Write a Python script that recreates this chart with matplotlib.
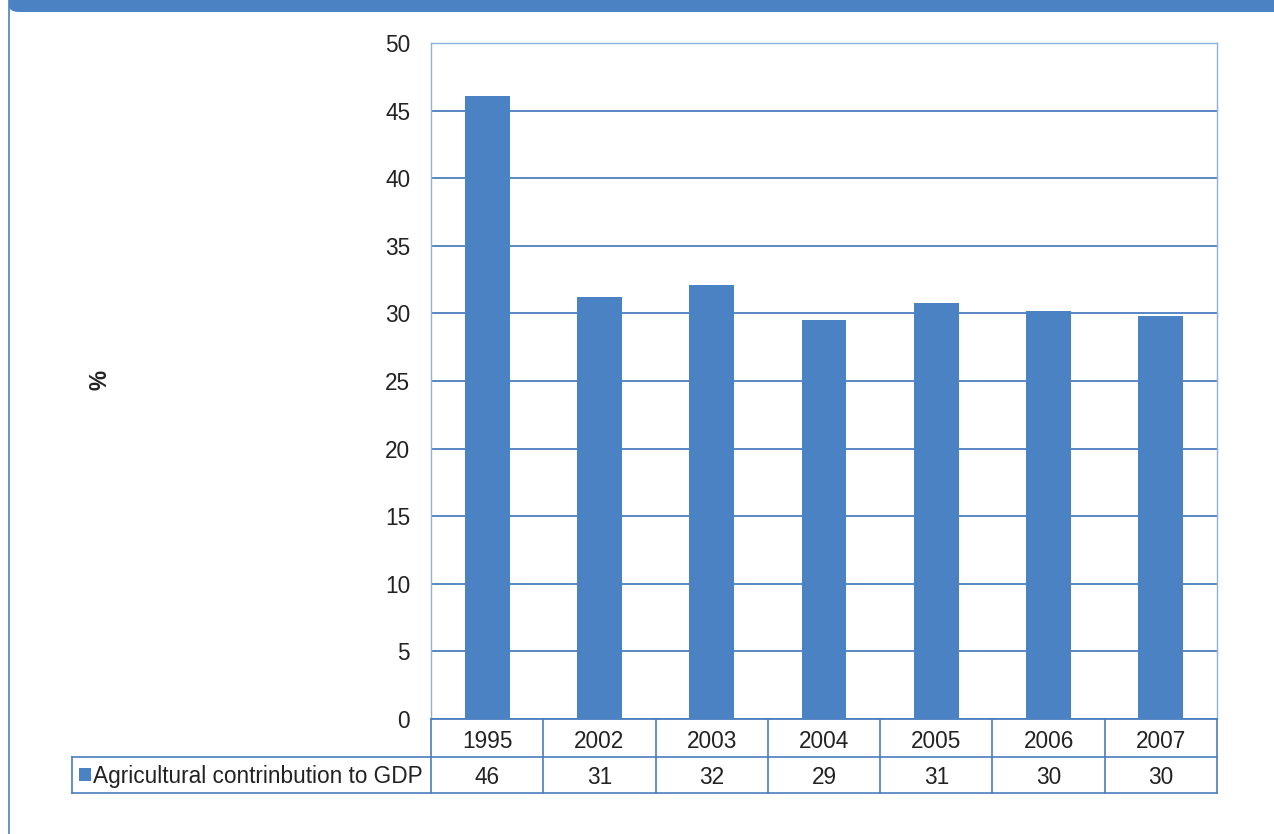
import matplotlib.pyplot as plt
from matplotlib.patches import Rectangle, FancyBboxPatch
from matplotlib.lines import Line2D
from matplotlib.transforms import blended_transform_factory

plt.rcParams['font.family'] = ['Liberation Sans', 'DejaVu Sans']

years = ['1995', '2002', '2003', '2004', '2005', '2006', '2007']
values = [46.1, 31.2, 32.1, 29.5, 30.8, 30.2, 29.8]
table_values = ['46', '31', '32', '29', '31', '30', '30']
series_name = 'Agricultural contrinbution to GDP'

W, H = 1274, 834
bar_color = '#4a82c4'
grid_color = '#4a7ebf'
frame_color = '#8fb0da'
text_color = '#222222'
fs = 16.3


def fx(px):
  return px / W


def fy(py):
  return 1 - py / H


fig = plt.figure(figsize=(W / 100, H / 100), dpi=100)

# top banner and left border
fig.patches.append(FancyBboxPatch((fx(9), fy(12)), fx(1265) + 0.01, fy(0) - fy(12) + 0.01,
                                  boxstyle='round,pad=0,rounding_size=0.008',
                                  transform=fig.transFigure, facecolor='#4a82c4',
                                  edgecolor='none'))
fig.lines.append(Line2D([fx(9), fx(9)], [0, 1], transform=fig.transFigure,
                        color='#4a82c4', lw=1.2))

ax = fig.add_axes([fx(431), fy(719), fx(1217) - fx(431), fy(43) - fy(719)])
x = range(len(years))
ax.bar(x, values, width=0.4, color=bar_color, zorder=3)
ax.set_xlim(-0.5, len(years) - 0.5)
ax.set_ylim(0, 50)
ax.set_yticks(range(0, 51, 5))
ax.yaxis.grid(True, color=grid_color, lw=1.3, zorder=0)
ax.tick_params(axis='y', length=0, labelsize=fs, pad=15, colors=text_color)
ax.tick_params(axis='x', length=0, labelbottom=False)
for s in ax.spines.values():
  s.set_color(frame_color)
  s.set_linewidth(1.0)
ax.spines['bottom'].set_color(grid_color)
ax.spines['bottom'].set_linewidth(1.3)

fig.text(fx(100), fy(380), '%', rotation=90, ha='center', va='center',
         fontsize=fs, fontweight='bold', color=text_color)

# data table under the axes
tr = blended_transform_factory(ax.transData, fig.transFigure)
row1_top, row1_bot, row2_bot = 719, 757, 793
lkw = dict(color=grid_color, lw=1.2)
fig.lines.append(Line2D([fx(72), fx(1217)], [fy(row1_bot)] * 2, transform=fig.transFigure, **lkw))
fig.lines.append(Line2D([fx(72), fx(1217)], [fy(row2_bot)] * 2, transform=fig.transFigure, **lkw))
fig.lines.append(Line2D([fx(72), fx(72)], [fy(row1_bot), fy(row2_bot)], transform=fig.transFigure, **lkw))
for i in range(len(years) + 1):
  fig.lines.append(Line2D([i - 0.5, i - 0.5], [fy(row1_top), fy(row2_bot)], transform=tr, **lkw))
for i, (yr, v) in enumerate(zip(years, table_values)):
  fig.text(i, fy(741), yr, transform=tr, ha='center', va='center', fontsize=fs, color=text_color)
  fig.text(i, fy(777), v, transform=tr, ha='center', va='center', fontsize=fs, color=text_color)

fig.patches.append(Rectangle((fx(79), fy(781)), fx(12), fy(768) - fy(781),
                             transform=fig.transFigure, facecolor=bar_color, edgecolor='none'))
fig.text(fx(93), fy(776), series_name, ha='left', va='center', fontsize=fs, color=text_color)

fig.savefig('out.png', dpi=100)
